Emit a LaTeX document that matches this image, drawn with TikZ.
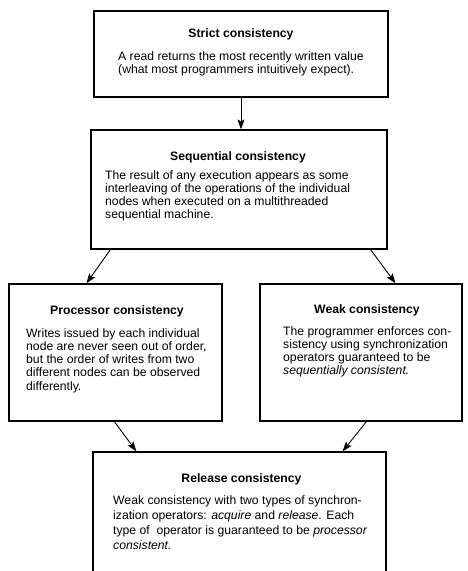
\documentclass[tikz,border=0pt]{standalone}
\usepackage{fontspec}
\setmainfont{Liberation Sans}
\usetikzlibrary{positioning,arrows.meta}

\begin{document}
\begin{tikzpicture}[x=1pt, y=-1pt,
    box/.style={draw, line width=1.2pt, inner sep=0pt},
    ttl/.style={font=\fontsize{12.2}{13.3}\selectfont\bfseries, inner sep=0pt, anchor=base},
    txt/.style={font=\fontsize{12.2}{13.3}\selectfont, align=left, inner sep=0pt, anchor=north west},
    arr/.style={line width=0.9pt, -{Stealth[length=10pt, width=7pt, inset=2pt]}}]
            \useasboundingbox (0,0) rectangle (467,571);
            % Define boxes
            \node[box, minimum width=294pt, minimum height=86pt] (strict) at (241,54) {};
            \node[box, minimum width=296pt, minimum height=119pt] (seq) at (239,189.5) {};
            \node[box, minimum width=213pt, minimum height=137pt] (proc) at (115.5,352.5) {};
            \node[box, minimum width=202pt, minimum height=137pt] (weak) at (361,352.5) {};
            \node[box, minimum width=293pt, minimum height=148pt] (rel) at (239.5,526) {};
            % Titles
            \node[ttl] (strictT) at (241,37) {Strict consistency};
            \node[ttl] (seqT) at (238,160) {Sequential consistency};
            \node[ttl] (procT) at (117,314) {Processor consistency};
            \node[ttl] (weakT) at (367,313) {Weak consistency};
            \node[ttl] (relT) at (241.5,482.5) {Release consistency};
            % Texts (top of first line)
            \node[txt] (strictB) at (118,51) {A read returns the most recently written value\\(what most programmers intuitively expect).};
            \node[txt] (seqB) at (105,170) {The result of any execution appears as some\\interleaving of the operations of the individual\\nodes when executed on a multithreaded\\sequential machine.};
            \node[txt] (procB) at (26,328) {Writes issued by each individual\\node are never seen out of order,\\but the order of writes from two\\different nodes can be observed\\differently.};
            \node[txt] (weakB) at (283,326) {The programmer enforces con-\\sistency using synchronization\\operators guaranteed to be\\\textit{sequentially consistent.}};
            \node[txt, font=\fontsize{12.2}{15}\selectfont] (relB) at (113,495.5) {Weak consistency with two types of synchron-\\ization operators: \textit{acquire} and \textit{release}. Each\\type of\ \ operator is guaranteed to be \textit{processor}\\\textit{consistent.}};
            % Draw arrows
            \draw[arr] (strict.south) -- (strict.south |- seq.north);
            \draw[arr] ([xshift=20pt]seq.south west) -- ([xshift=78pt]proc.north west);
            \draw[arr] ([xshift=-17pt]seq.south east) -- ([xshift=-67pt]weak.north east);
            \draw[arr] ([xshift=106pt]proc.south west) -- ([xshift=44pt]rel.north west);
            \draw[arr] ([xshift=107pt]weak.south west) -- ([xshift=-44pt]rel.north east);
          \end{tikzpicture}
\end{document}
